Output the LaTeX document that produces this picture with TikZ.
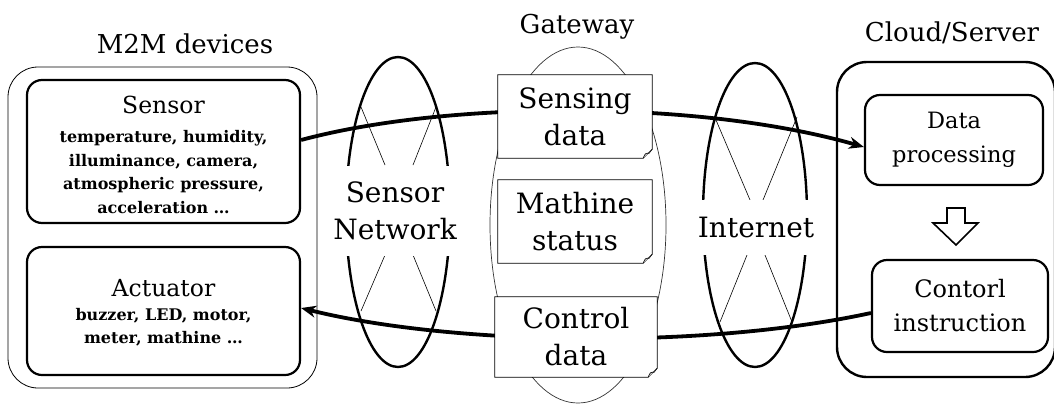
\documentclass[tikz,border=0pt]{standalone}
\usepackage{fontspec}
\setmainfont{DejaVu Serif}
\usetikzlibrary{arrows.meta}
\tikzset{
  title/.style={font=\fontsize{26}{30}\selectfont, inner sep=0pt},
  big/.style={font=\fontsize{28}{37}\selectfont, align=center, inner sep=0pt},
  mid/.style={font=\fontsize{23.5}{34}\selectfont, align=center, inner sep=0pt},
  small/.style={font=\fontsize{16}{23.5}\selectfont\bfseries, align=center, inner sep=0pt},
  devbox/.style={draw, line width=2.2pt, rounded corners=15pt, inner sep=0pt},
  thin/.style={line width=0.6pt},
  conn/.style={line width=3.8pt, -{Stealth[length=15pt,width=12pt]}},
  docbox/.style={fill=white, inner sep=0pt},
}
\newcommand{\docshape}[1]{%
  \draw[line width=0.8pt] (#1.north west) -- (#1.north east) -- ([yshift=9pt]#1.south east)
    -- ([xshift=-9pt]#1.south east) -- (#1.south west) -- cycle;
  \draw[line width=0.6pt, fill=gray!40] ([xshift=-9pt]#1.south east) .. controls ([xshift=-7pt,yshift=5pt]#1.south east) .. ([xshift=-3pt,yshift=5pt]#1.south east) -- ([yshift=9pt]#1.south east);
}
\begin{document}
\begin{tikzpicture}[x=1pt,y=-1pt]
\useasboundingbox (0,0) rectangle (1054,405);

% titles
\node[title] (tm2m) at (185,44) {M2M devices};
\node[title] (tgw) at (577,27) {Gateway};
\node[title] (tcs) at (952,33) {Cloud/Server};

% M2M devices group
\node[draw, line width=0.8pt, rounded corners=30pt, minimum width=309pt, minimum height=321pt, inner sep=0pt] (m2m) at (162.5,227.5) {};
\node[devbox, minimum width=273pt, minimum height=143pt] (sensor) at (163.5,151.5) {};
\node[mid] (sensorT) at (163.5,105) {Sensor};
\node[small] (sensorD) at (163.5,172) {temperature, humidity,\\illuminance, camera,\\atmospheric pressure,\\acceleration \ldots};
\node[devbox, minimum width=273pt, minimum height=128pt] (act) at (163.5,311) {};
\node[mid] (actT) at (163.5,288) {Actuator};
\node[small] (actD) at (163.5,327) {buzzer, LED, motor,\\meter, mathine \ldots};

% Sensor network
\draw[line width=2.4pt] (398,212) ellipse [x radius=52, y radius=155];
\draw[thin] (361,107) -- (385,165);
\draw[thin] (436,107) -- (413,165);
\draw[thin] (385,255) -- (361,311);
\draw[thin] (413,255) -- (436,311);
\node[big, fill=white, minimum height=90pt, inner xsep=2pt] (sn) at (395,211) {Sensor\\Network};

% Internet
\draw[line width=2.4pt] (755,215) ellipse [x radius=52, y radius=152];
\draw[thin] (716,120) -- (750,200);
\draw[thin] (797,117) -- (763,200);
\draw[thin] (747,255) -- (720,322);
\draw[thin] (765,255) -- (792,322);
\node[big, fill=white, minimum height=55pt, inner xsep=2pt] (inet) at (756,227) {Internet};

% Gateway
\draw[line width=0.7pt, black!80] (578,225) ellipse [x radius=88, y radius=178];

% Cloud / server
\node[draw, line width=2.4pt, rounded corners=30pt, minimum width=218pt, minimum height=315pt, inner sep=0pt] (cloud) at (946,219.5) {};
\node[devbox, font=\fontsize{22.5}{34}\selectfont, align=center, minimum width=178pt, minimum height=90pt] (dp) at (954,140) {Data\\processing};
\node[devbox, font=\fontsize{24}{34}\selectfont, align=center, minimum width=176pt, minimum height=92pt] (ci) at (960,306) {Contorl\\instruction};
\draw[line width=1.6pt, fill=white] (947,208) -- (965,208) -- (965,223) -- (978,223) -- (956,245) -- (933,223) -- (947,223) -- cycle;

% connectors
\draw[conn] (sensor.east |- 0,140) .. controls (450,100) and (700,100) .. (dp.west |- 0,147);
\draw[conn] (ci.west |- 0,313) .. controls (700,350) and (450,345) .. (act.east |- 0,308);

% gateway documents
\node[docbox, big, minimum width=154pt, minimum height=83pt] (sd) at (575,116.5) {Sensing\\data};
\docshape{sd}
\node[docbox, big, minimum width=154pt, minimum height=83pt] (ms) at (575,221.5) {Mathine\\status};
\docshape{ms}
\node[docbox, big, minimum width=162pt, minimum height=80pt] (cd) at (576,337) {Control\\data};
\docshape{cd}
\end{tikzpicture}
\end{document}
